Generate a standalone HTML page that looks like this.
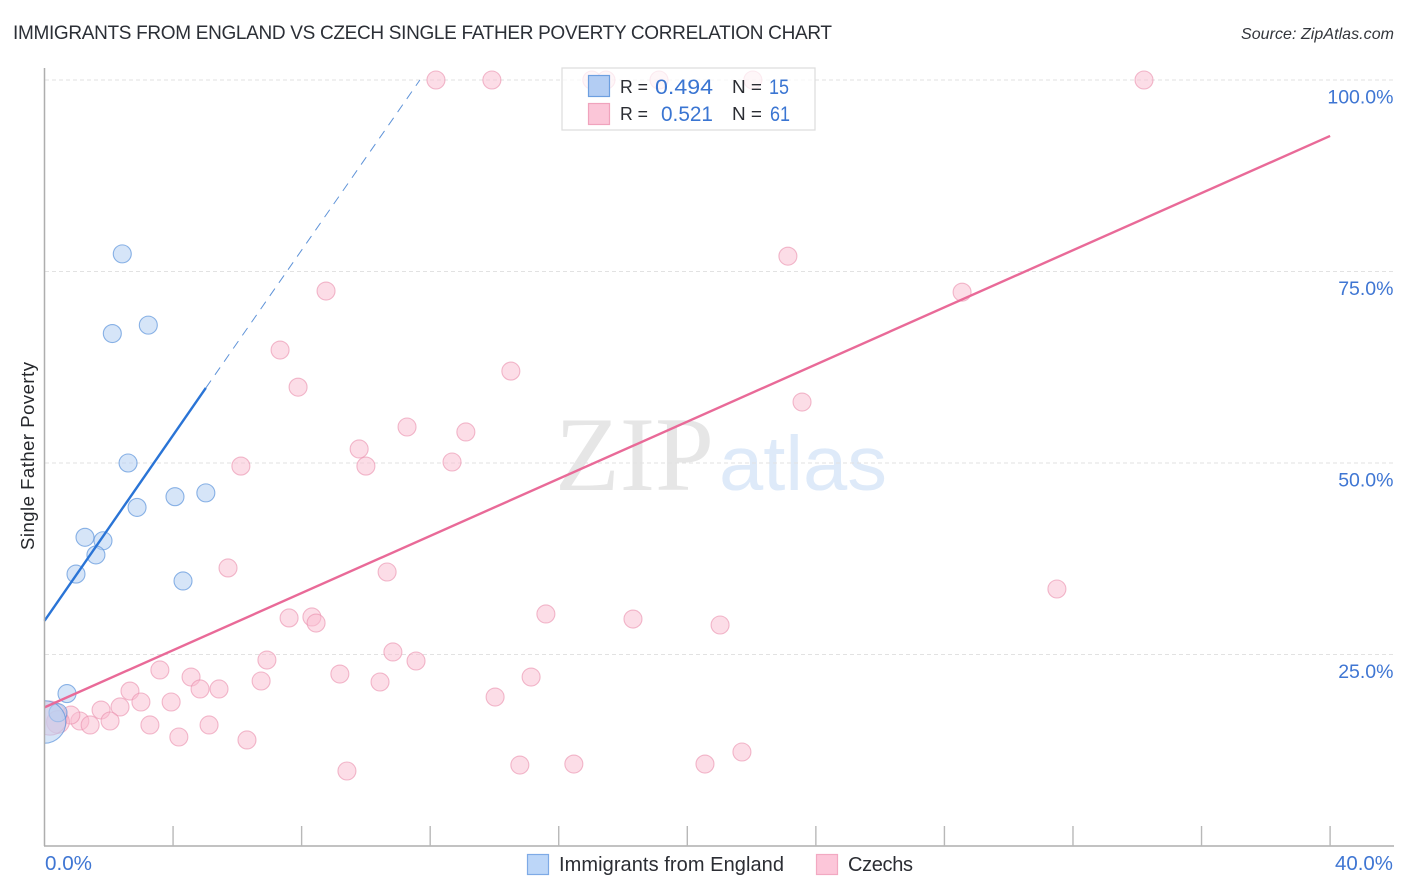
<!DOCTYPE html>
<html lang="en">
<head>
<meta charset="utf-8">
<title>Immigrants from England vs Czech Single Father Poverty Correlation Chart</title>
<style>
html,body{margin:0;padding:0;background:#fff;width:1406px;height:892px;overflow:hidden}
svg{display:block;font-family:"Liberation Sans",sans-serif}
</style>
</head>
<body>
<svg id="chart" xmlns="http://www.w3.org/2000/svg" width="1406" height="892" viewBox="0 0 1406 892">
  <rect width="1406" height="892" fill="#fff"/>
  <text x="13" y="39" font-size="19" fill="#2b2f36" textLength="819">IMMIGRANTS FROM ENGLAND VS CZECH SINGLE FATHER POVERTY CORRELATION CHART</text>
  <text x="1241" y="39" font-size="16" font-style="italic" fill="#33363c" textLength="153">Source: ZipAtlas.com</text>
  <text x="555" y="490" font-family="'Liberation Serif',serif" font-size="106" fill="#e6e6e6" textLength="159" lengthAdjust="spacingAndGlyphs">ZIP</text>
  <text x="719" y="490" font-size="77" fill="#deeaf9" textLength="168" lengthAdjust="spacingAndGlyphs">atlas</text>
  <g id="grid"></g>
  <g id="pink-points"></g>
  <g id="blue-points"></g>
  <g id="trend"></g>
  <g id="axes"></g>
  <text transform="translate(34,550) rotate(-90)" font-size="18.5" fill="#26282c" textLength="188">Single Father Poverty</text>

  <g>
    <rect x="562" y="68" width="253" height="62" fill="#fff" fill-opacity="0.72" stroke="#dcdcdc" stroke-width="1.2"/>
    <rect x="588.5" y="75.5" width="21" height="21" fill="#b3cdf3" stroke="#6d9fe0" stroke-width="1.2"/>
    <rect x="588.5" y="103.5" width="21" height="21" fill="#fbc6d8" stroke="#f0a3bd" stroke-width="1.2"/>
    <text x="620" y="93" font-size="18" fill="#2b2d33" textLength="28" lengthAdjust="spacingAndGlyphs">R =</text>
    <text x="655" y="94" font-size="21.5" fill="#3a75d2" textLength="58" lengthAdjust="spacingAndGlyphs">0.494</text>
    <text x="732" y="93" font-size="18" fill="#2b2d33" textLength="30" lengthAdjust="spacingAndGlyphs">N =</text>
    <text x="769" y="94" font-size="21.5" fill="#3a75d2" textLength="20" lengthAdjust="spacingAndGlyphs">15</text>
    <text x="620" y="120" font-size="18" fill="#2b2d33" textLength="28" lengthAdjust="spacingAndGlyphs">R =</text>
    <text x="661" y="121" font-size="21.5" fill="#3a75d2" textLength="52" lengthAdjust="spacingAndGlyphs">0.521</text>
    <text x="732" y="120" font-size="18" fill="#2b2d33" textLength="30" lengthAdjust="spacingAndGlyphs">N =</text>
    <text x="770" y="121" font-size="21.5" fill="#3a75d2" textLength="20" lengthAdjust="spacingAndGlyphs">61</text>
  </g>

  <g>
    <rect x="527.5" y="854.5" width="21" height="20" fill="#bcd6f8" stroke="#7eaae6" stroke-width="1.2"/>
    <text x="559" y="871" font-size="20" fill="#2b2d33" textLength="225">Immigrants from England</text>
    <rect x="816.5" y="854.5" width="21" height="20" fill="#fcc6d9" stroke="#f2a9c2" stroke-width="1.2"/>
    <text x="848" y="871" font-size="20" fill="#2b2d33" textLength="65">Czechs</text>
  </g>
</svg>
<script>
const blueX = [2.42,3.23,2.11,2.6,2.88,4.06,5.02,1.26,1.82,1.6,0.98,4.31,0.7,0.42,0.0];
const blueY = [77.3,68.0,66.9,50.0,44.2,45.6,46.1,40.3,39.85,38.0,35.5,34.6,19.9,17.4,16.2];
const blueWeight = [1,1,1,1,1,1,1,1,1,1,1,1,1,1,5.6];

const pinkX = [12.18,13.92,17.03,17.47,19.12,22.04,34.21,23.13,28.55,8.76,7.33,7.89,14.51,23.57,11.28,13.11,9.79,10.0,12.68,6.11,5.71,10.66,31.5,15.6,18.31,21.02,7.61,8.32,8.45,10.84,11.56,6.92,3.59,4.56,9.19,15.14,6.74,10.44,4.84,5.43,2.66,14.02,3.94,3.0,2.35,1.76,3.28,5.12,2.04,1.1,1.42,0.82,4.18,6.3,21.7,9.41,14.79,16.47,20.55,0.42,0.17];
const pinkY = [100,100,100,100,100,100,100,77.0,72.3,72.45,64.75,59.9,62.0,57.96,54.7,54.05,51.83,49.6,50.13,49.6,36.3,35.77,33.55,30.29,29.63,28.85,29.77,29.9,29.11,25.33,24.15,24.28,22.98,22.06,22.45,22.06,21.54,21.41,20.5,20.5,20.23,19.45,18.8,18.8,18.15,17.75,15.8,15.8,16.32,16.32,15.8,17.1,14.23,13.84,12.27,9.79,10.57,10.7,10.7,16.2,16.7];
const pinkWeight = [1,1,1,1,1,1,1,1,1,1,1,1,1,1,1,1,1,1,1,1,1,1,1,1,1,1,1,1,1,1,1,1,1,1,1,1,1,1,1,1,1,1,1,1,1,1,1,1,1,1,1,1,1,1,1,1,1,1,1,1.6,3.6];

const blueTrendX = [0,5.02];
const blueTrendY = [29.4,59.8];
const blueDashX = [5.02,11.68];
const blueDashY = [59.8,100];
const pinkTrendX = [0,40];
const pinkTrendY = [18.1,92.7];

const yTicks = [25,50,75,100];
const yTickLabels = ["25.0%","50.0%","75.0%","100.0%"];
const xTicks = [0,4,8,12,16,20,24,28,32,36,40];
const xEdgeLabels = ["0.0%","40.0%"];

const NS = "http://www.w3.org/2000/svg";
const xScale = v => 44.5 + v * 32.14;
const yScale = v => 846 - v * 7.66;
const mk = (tag, parent, props) => {
  const el = document.createElementNS(NS, tag);
  for (const k in props) el.setAttribute(k, props[k]);
  parent.appendChild(el);
  return el;
};

const gridG = document.getElementById("grid");
yTicks.forEach(t => {
  const l = mk("line", gridG, {x1:45, x2:1394, y1:yScale(t), y2:yScale(t), stroke:"#e2e2e2", "stroke-width":1, "stroke-dasharray":"4 3"});
  
  
});

const clip = mk("clipPath", document.getElementById("chart"), {id:"plot-clip"});
mk("rect", clip, {x:45, y:60, width:1349, height:786});

const pinkG = document.getElementById("pink-points");
pinkG.setAttribute("clip-path", "url(#plot-clip)");
pinkX.forEach((v, i) => {
  const c = mk("circle", pinkG, {cx:xScale(v), cy:yScale(pinkY[i]), r:9*Math.sqrt(pinkWeight[i]), fill:"#f9bcd0", "fill-opacity":0.5, stroke:"#ea8dac", "stroke-opacity":0.6, "stroke-width":1.1});
  
  
});

const blueG = document.getElementById("blue-points");
blueG.setAttribute("clip-path", "url(#plot-clip)");
blueX.forEach((v, i) => {
  const c = mk("circle", blueG, {cx:xScale(v), cy:yScale(blueY[i]), r:9*Math.sqrt(blueWeight[i]), fill:"#b5d0f3", "fill-opacity":0.55, stroke:"#5c94dc", "stroke-opacity":0.7, "stroke-width":1.1});
  
  
});

const trendG = document.getElementById("trend");
const blueDash = mk("line", trendG, {x1:xScale(blueDashX[0]), y1:yScale(blueDashY[0]), x2:xScale(blueDashX[1]), y2:yScale(blueDashY[1]), stroke:"#5f93d8", "stroke-width":1, "stroke-dasharray":"9 7"});


const blueLine = mk("line", trendG, {x1:xScale(blueTrendX[0]), y1:yScale(blueTrendY[0]), x2:xScale(blueTrendX[1]), y2:yScale(blueTrendY[1]), stroke:"#2a74d6", "stroke-width":2.4});


const pinkLine = mk("line", trendG, {x1:xScale(pinkTrendX[0]), y1:yScale(pinkTrendY[0]), x2:xScale(pinkTrendX[1]), y2:yScale(pinkTrendY[1]), stroke:"#e96a98", "stroke-width":2.4});



const axesG = document.getElementById("axes");
const yAxis = mk("line", axesG, {x1:44.5, x2:44.5, y1:68, y2:846, stroke:"#aeaeae", "stroke-width":1.5});


const xAxis = mk("line", axesG, {x1:44, x2:1394, y1:846, y2:846, stroke:"#aeaeae", "stroke-width":1.5});


xTicks.slice(1).forEach(t => {
  const l = mk("line", axesG, {x1:xScale(t), x2:xScale(t), y1:826, y2:846, stroke:"#b8b8b8", "stroke-width":1.4});
  
  
});
yTickLabels.forEach((s, i) => {
  const t = mk("text", axesG, {x:1393.5, y:yScale(yTicks[i]) + 23.5, "text-anchor":"end", "font-size":19.5, fill:"#3f76d3"});
  t.textContent = s;
  
  
});
const x0Label = mk("text", axesG, {x:45, y:870, "font-size":20, fill:"#3f76d3", textLength:47, lengthAdjust:"spacingAndGlyphs"});
x0Label.textContent = xEdgeLabels[0];


const x1Label = mk("text", axesG, {x:1335, y:870, "font-size":20, fill:"#3f76d3", textLength:58, lengthAdjust:"spacingAndGlyphs"});
x1Label.textContent = xEdgeLabels[1];


</script>
</body>
</html>
